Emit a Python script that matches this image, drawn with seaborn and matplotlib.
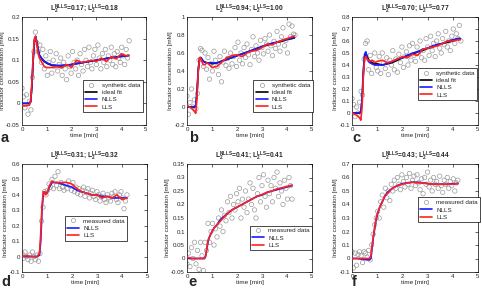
import numpy as np
import seaborn as sns
import matplotlib.pyplot as plt
from matplotlib.lines import Line2D
from matplotlib.ticker import FuncFormatter, MultipleLocator

sns.set_style('white')
plt.rcParams['font.family'] = ['Liberation Sans', 'DejaVu Sans']
plt.rcParams['mathtext.fontset'] = 'custom'
plt.rcParams['mathtext.rm'] = 'Liberation Sans'
plt.rcParams['mathtext.bf'] = 'Liberation Sans:bold'

# time grid of the data points [min]
t_syn = [0.00, 0.06, 0.12, 0.18, 0.24, 0.30, 0.36, 0.42, 0.48, 0.54,
         0.60, 0.66, 0.72, 0.78, 0.84, 0.90, 0.96, 1.02, 1.08, 1.14,
         1.20, 1.26, 1.32, 1.38, 1.44, 1.50, 1.56, 1.62, 1.68, 1.74,
         1.80, 1.86, 1.92, 1.98, 2.04, 2.10, 2.16, 2.22, 2.28, 2.34,
         2.40, 2.46, 2.52, 2.58, 2.64, 2.70, 2.76, 2.82, 2.88, 2.94,
         3.00, 3.06, 3.12, 3.18, 3.24, 3.30, 3.36, 3.42, 3.48, 3.54,
         3.60, 3.66, 3.72, 3.78, 3.84, 3.90, 3.96, 4.02, 4.08, 4.14,
         4.20, 4.26, 4.32]
t_meas = t_syn[:71]

# time grids of the fitted curves
t_fit_top = [0, 0.1, 0.2, 0.3, 0.35, 0.4, 0.45, 0.5, 0.55, 0.6, 0.65, 0.7, 0.8, 0.9, 1.0, 1.2,
             1.4, 1.6, 1.8, 2.0, 2.2, 2.4, 2.6, 2.8, 3.0, 3.2, 3.4, 3.6, 3.8, 4.0, 4.2, 4.3]
t_fit_bot = [0, 0.2, 0.4, 0.6, 0.7, 0.75, 0.8, 0.85, 0.9, 0.95, 1.0, 1.1, 1.2, 1.3, 1.4,
             1.6, 1.8, 2.0, 2.2, 2.4, 2.6, 2.8, 3.0, 3.2, 3.4, 3.6, 3.8, 4.0, 4.2]

# panel a
a_data = [0.035, 0.015, -0.01, 0.02, -0.025, 0.005, -0.015, 0.06, 0.12, 0.165,
          0.14, 0.12, 0.135, 0.095, 0.125, 0.08, 0.11, 0.065, 0.095, 0.12,
          0.07, 0.10, 0.085, 0.115, 0.075, 0.09, 0.105, 0.065, 0.095, 0.08,
          0.055, 0.11, 0.085, 0.07, 0.12, 0.095, 0.08, 0.10, 0.065, 0.115,
          0.09, 0.075, 0.125, 0.10, 0.085, 0.13, 0.095, 0.08, 0.11, 0.125,
          0.09, 0.135, 0.105, 0.08, 0.115, 0.095, 0.125, 0.085, 0.11, 0.10,
          0.13, 0.09, 0.115, 0.085, 0.12, 0.105, 0.095, 0.13, 0.11, 0.09,
          0.125, 0.105, 0.145]
a_ideal = [0, 0, 0, 0, 0.005, 0.04, 0.10, 0.145, 0.155, 0.14, 0.125, 0.112, 0.103, 0.097, 0.093, 0.088,
           0.087, 0.087, 0.088, 0.090, 0.092, 0.094, 0.096, 0.098, 0.100, 0.102, 0.104, 0.106, 0.107, 0.109, 0.110, 0.111]
a_nlls = [0, 0, 0, 0, 0.005, 0.04, 0.10, 0.145, 0.155, 0.14, 0.125, 0.112, 0.104, 0.098, 0.094, 0.089,
          0.088, 0.088, 0.089, 0.090, 0.092, 0.094, 0.096, 0.098, 0.100, 0.102, 0.104, 0.106, 0.107, 0.109, 0.110, 0.111]
a_lls = [-0.005, -0.006, -0.005, -0.004, 0.005, 0.05, 0.11, 0.15, 0.155, 0.135, 0.115, 0.105, 0.095, 0.085, 0.083, 0.083,
         0.085, 0.082, 0.09, 0.083, 0.100, 0.095, 0.097, 0.10, 0.097, 0.105, 0.097, 0.108, 0.103, 0.115, 0.110, 0.112]

# panel b
b_data = [0.12, -0.08, 0.05, 0.20, 0.0, 0.08, -0.02, 0.15, 0.52, 0.65,
          0.63, 0.45, 0.60, 0.42, 0.55, 0.31, 0.48, 0.40, 0.62, 0.52,
          0.45, 0.36, 0.56, 0.28, 0.50, 0.62, 0.46, 0.54, 0.43, 0.60,
          0.48, 0.56, 0.66, 0.45, 0.72, 0.52, 0.60, 0.48, 0.66, 0.55,
          0.70, 0.58, 0.47, 0.64, 0.78, 0.56, 0.68, 0.60, 0.52, 0.74,
          0.66, 0.59, 0.76, 0.70, 0.62, 0.80, 0.68, 0.57, 0.73, 0.65,
          0.84, 0.70, 0.62, 0.78, 0.88, 0.68, 0.74, 0.60, 0.92, 0.78,
          0.90, 0.81, 0.80]
b_ideal = [0, 0, 0, 0, 0.01, 0.15, 0.40, 0.53, 0.55, 0.53, 0.51, 0.50, 0.49, 0.49, 0.48, 0.49,
           0.51, 0.53, 0.55, 0.57, 0.59, 0.61, 0.63, 0.65, 0.67, 0.69, 0.70, 0.72, 0.73, 0.75, 0.76, 0.77]
b_nlls = [0, 0, 0, 0.005, 0.02, 0.17, 0.42, 0.54, 0.55, 0.53, 0.51, 0.50, 0.49, 0.49, 0.49, 0.49,
          0.51, 0.53, 0.55, 0.57, 0.59, 0.61, 0.63, 0.65, 0.67, 0.69, 0.71, 0.72, 0.74, 0.75, 0.77, 0.77]
b_lls = [0.02, 0.0, -0.02, -0.05, -0.07, 0.10, 0.40, 0.55, 0.54, 0.50, 0.47, 0.47, 0.49, 0.47, 0.44, 0.45,
         0.50, 0.55, 0.57, 0.58, 0.56, 0.60, 0.62, 0.63, 0.66, 0.70, 0.69, 0.72, 0.74, 0.76, 0.78, 0.79]

# panel c
c_data = [0.12, 0.07, -0.03, 0.05, 0.0, 0.09, 0.18, 0.15, 0.45, 0.58,
          0.60, 0.36, 0.48, 0.33, 0.42, 0.50, 0.38, 0.35, 0.47, 0.33,
          0.50, 0.42, 0.37, 0.46, 0.32, 0.44, 0.40, 0.52, 0.36, 0.45,
          0.34, 0.49, 0.42, 0.55, 0.38, 0.47, 0.51, 0.40, 0.56, 0.44,
          0.58, 0.48, 0.43, 0.55, 0.50, 0.60, 0.46, 0.52, 0.44, 0.62,
          0.55, 0.48, 0.64, 0.52, 0.58, 0.47, 0.60, 0.66, 0.54, 0.50,
          0.62, 0.57, 0.68, 0.55, 0.60, 0.52, 0.64, 0.70, 0.58, 0.66,
          0.62, 0.73, 0.60]
c_ideal = [0, 0, 0, 0, 0.005, 0.1, 0.33, 0.47, 0.50, 0.47, 0.45, 0.43, 0.42, 0.41, 0.41, 0.40,
           0.41, 0.42, 0.44, 0.46, 0.48, 0.49, 0.51, 0.52, 0.54, 0.55, 0.57, 0.58, 0.59, 0.60, 0.62, 0.62]
c_nlls = [0, 0, 0, 0.005, 0.01, 0.12, 0.36, 0.49, 0.51, 0.46, 0.43, 0.42, 0.41, 0.40, 0.40, 0.40,
          0.41, 0.43, 0.45, 0.46, 0.48, 0.50, 0.51, 0.53, 0.54, 0.56, 0.57, 0.58, 0.60, 0.61, 0.62, 0.62]
c_lls = [0.0, -0.01, -0.02, -0.04, -0.06, 0.05, 0.30, 0.45, 0.47, 0.45, 0.44, 0.43, 0.44, 0.42, 0.43, 0.44,
         0.42, 0.43, 0.45, 0.47, 0.46, 0.49, 0.48, 0.53, 0.54, 0.55, 0.56, 0.58, 0.60, 0.60, 0.61, 0.61]

# panel d
d_data = [0.02, -0.01, 0.03, 0.0, -0.02, 0.01, -0.03, 0.03, 0.0, -0.02,
          0.01, -0.03, 0.02, 0.23, 0.32, 0.42, 0.40, 0.43, 0.47, 0.45,
          0.50, 0.44, 0.52, 0.46, 0.55, 0.44, 0.48, 0.45, 0.43, 0.47,
          0.44, 0.49, 0.46, 0.43, 0.48, 0.42, 0.45, 0.41, 0.44, 0.40,
          0.43, 0.45, 0.39, 0.42, 0.44, 0.38, 0.41, 0.43, 0.39, 0.37,
          0.42, 0.40, 0.36, 0.39, 0.41, 0.37, 0.35, 0.40, 0.38, 0.36,
          0.41, 0.39, 0.42, 0.37, 0.35, 0.40, 0.42, 0.38, 0.31, 0.36,
          0.40]
d_nlls = [0.0, 0.0, 0.0, 0.0, 0.01, 0.10, 0.30, 0.40, 0.42, 0.41, 0.41, 0.45, 0.48, 0.48, 0.48,
          0.47, 0.46, 0.45, 0.43, 0.42, 0.41, 0.40, 0.40, 0.39, 0.39, 0.38, 0.38, 0.38, 0.38]
d_lls = [0.0, 0.005, 0.0, 0.0, 0.02, 0.15, 0.33, 0.42, 0.42, 0.40, 0.41, 0.46, 0.49, 0.48, 0.48,
         0.48, 0.48, 0.47, 0.44, 0.42, 0.41, 0.40, 0.40, 0.38, 0.39, 0.38, 0.40, 0.37, 0.38]

# panel e
e_data = [-0.02, 0.02, -0.03, 0.04, 0.0, 0.06, -0.02, 0.03, -0.04, 0.06,
          0.01, -0.045, 0.06, 0.03, 0.13, 0.06, 0.10, 0.13, 0.05, 0.11,
          0.08, 0.15, 0.12, 0.18, 0.10, 0.16, 0.14, 0.21, 0.17, 0.23,
          0.15, 0.20, 0.18, 0.24, 0.21, 0.26, 0.15, 0.22, 0.19, 0.25,
          0.17, 0.22, 0.28, 0.20, 0.26, 0.18, 0.15, 0.24, 0.30, 0.21,
          0.27, 0.31, 0.23, 0.19, 0.29, 0.24, 0.27, 0.21, 0.30, 0.26,
          0.32, 0.23, 0.28, 0.25, 0.20, 0.29, 0.26, 0.22, 0.30, 0.27,
          0.22]
e_nlls = [0, 0, 0, 0, 0.0, 0.01, 0.04, 0.065, 0.08, 0.09, 0.10, 0.115, 0.125, 0.14, 0.15,
          0.165, 0.18, 0.19, 0.20, 0.21, 0.22, 0.23, 0.235, 0.245, 0.25, 0.255, 0.26, 0.265, 0.27]
e_lls = [0.005, 0.0, 0.0, 0.0, 0.0, 0.01, 0.045, 0.07, 0.08, 0.09, 0.10, 0.115, 0.125, 0.135, 0.145,
         0.165, 0.18, 0.19, 0.20, 0.21, 0.22, 0.23, 0.237, 0.245, 0.25, 0.258, 0.262, 0.267, 0.272]

# panel f
f_data = [0.05, -0.07, 0.04, -0.05, 0.03, 0.05, 0.02, -0.03, 0.05, 0.04,
          0.01, 0.06, -0.01, 0.10, 0.18, 0.25, 0.30, 0.35, 0.30, 0.42,
          0.47, 0.38, 0.52, 0.45, 0.50, 0.43, 0.55, 0.50, 0.58, 0.52,
          0.60, 0.55, 0.51, 0.62, 0.57, 0.53, 0.60, 0.55, 0.63, 0.52,
          0.58, 0.61, 0.54, 0.62, 0.56, 0.51, 0.59, 0.48, 0.60, 0.55,
          0.64, 0.53, 0.58, 0.50, 0.60, 0.55, 0.57, 0.52, 0.61, 0.54,
          0.49, 0.58, 0.55, 0.60, 0.52, 0.57, 0.54, 0.59, 0.50, 0.56,
          0.58]
f_nlls = [0, 0, -0.005, -0.01, -0.01, 0.0, 0.08, 0.16, 0.22, 0.28, 0.32, 0.38, 0.42, 0.46, 0.49,
          0.52, 0.54, 0.555, 0.56, 0.565, 0.565, 0.56, 0.555, 0.55, 0.55, 0.55, 0.55, 0.555, 0.555]
f_lls = [0, 0, 0.0, 0.0, 0.0, 0.02, 0.10, 0.17, 0.23, 0.29, 0.33, 0.38, 0.42, 0.46, 0.48,
         0.52, 0.54, 0.55, 0.56, 0.565, 0.56, 0.56, 0.555, 0.55, 0.55, 0.55, 0.55, 0.55, 0.555]

titles = [('0.17', '0.18'), ('0.94', '1.00'), ('0.70', '0.77'),
          ('0.31', '0.32'), ('0.41', '0.41'), ('0.43', '0.44')]
letters = ['a', 'b', 'c', 'd', 'e', 'f']

# layout (pixel boxes -> figure fractions)
W, H = 482, 288
fig = plt.figure(figsize=(W / 100, H / 100), dpi=100)
fig.patch.set_facecolor('white')


def px_axes(x0, x1, ytop, ybot):
    return fig.add_axes([x0 / W, 1 - ybot / H, (x1 - x0) / W, (ybot - ytop) / H])


boxes = [(22, 146, 17, 125), (187, 312, 17, 125), (352, 478, 17, 125),
         (22, 147, 164, 272), (187, 312, 164, 272), (352, 478, 164, 272)]
ylims = [(-0.05, 0.2, 0.05), (-0.2, 1.0, 0.2), (-0.1, 0.8, 0.1),
         (-0.1, 0.6, 0.1), (-0.05, 0.35, 0.05), (-0.1, 0.7, 0.1)]
leg_pos = [(0.49, 0.12), (0.53, 0.12), (0.52, 0.23), (0.34, 0.29), (0.50, 0.20), (0.52, 0.46)]
letter_pos = [(1, 142), (189, 142), (352, 142), (1, 286), (188, 286), (352, 286)]

panels = [
    (t_syn, a_data, t_fit_top, a_ideal, a_nlls, a_lls),
    (t_syn, b_data, t_fit_top, b_ideal, b_nlls, b_lls),
    (t_syn, c_data, t_fit_top, c_ideal, c_nlls, c_lls),
    (t_meas, d_data, t_fit_bot, None, d_nlls, d_lls),
    (t_meas, e_data, t_fit_bot, None, e_nlls, e_lls),
    (t_meas, f_data, t_fit_bot, None, f_nlls, f_lls),
]

blue = '#1a1aff'
red = '#ff2020'
grey = '#9a9a9a'
fmt = FuncFormatter(lambda v, p: '%g' % round(v, 3))

for i, (td, yd, tf, ideal, nlls, lls) in enumerate(panels):
    ax = px_axes(*boxes[i])
    sns.scatterplot(x=td, y=yd, ax=ax, marker='o', s=10, facecolor='none',
                    edgecolor=grey, linewidth=0.5, legend=False, zorder=2)
    if ideal is not None:
        sns.lineplot(x=tf, y=ideal, ax=ax, color='black', lw=1.2, legend=False, zorder=3)
    sns.lineplot(x=tf, y=nlls, ax=ax, color=blue, lw=1.2, legend=False, zorder=4)
    sns.lineplot(x=tf, y=lls, ax=ax, color=red, lw=1.2, legend=False, zorder=5)

    lo, hi, step = ylims[i]
    ax.set_xlim(0, 5)
    ax.set_ylim(lo, hi)
    ax.xaxis.set_major_locator(MultipleLocator(1))
    ax.yaxis.set_major_locator(MultipleLocator(step))
    ax.yaxis.set_major_formatter(fmt)
    ax.tick_params(direction='in', top=True, right=True, length=2, width=0.5,
                   labelsize=4.4, pad=1.5)
    for sp in ax.spines.values():
        sp.set_linewidth(0.5)
        sp.set_color('black')
    ax.set_xlabel('time [min]', fontsize=4.6, labelpad=1)
    ax.set_ylabel('Indicator concentration [mM]', fontsize=4.5, labelpad=1)
    n1, n2 = titles[i]
    ax.set_title(r'$\mathbf{L_2^{NLLS}}$=%s; $\mathbf{L_2^{LLS}}$=%s' % (n1, n2),
                 fontsize=4.8, fontweight='bold', pad=4)

    handles = [Line2D([], [], ls='none', marker='o', ms=3, mfc='none', mec=grey, mew=0.5)]
    labels = ['synthetic data' if i < 3 else 'measured data']
    if ideal is not None:
        handles.append(Line2D([], [], color='black', lw=1.2))
        labels.append('ideal fit')
    handles += [Line2D([], [], color=blue, lw=1.2), Line2D([], [], color=red, lw=1.2)]
    labels += ['NLLS', 'LLS']
    leg = ax.legend(handles, labels, loc='lower left', bbox_to_anchor=leg_pos[i],
                    fontsize=4.5, frameon=True, fancybox=False, framealpha=1,
                    borderpad=0.4, labelspacing=0.3, handlelength=1.9,
                    handletextpad=0.7, borderaxespad=0)
    leg.get_frame().set_edgecolor('black')
    leg.get_frame().set_linewidth(0.5)

    lx, ly = letter_pos[i]
    fig.text(lx / W, 1 - ly / H, letters[i], fontsize=10.5, fontweight='bold',
             ha='left', va='baseline')

fig.savefig('out.png', dpi=100, facecolor='white')
